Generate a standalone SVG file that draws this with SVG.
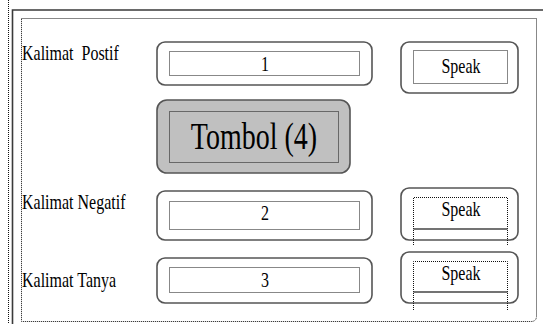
<svg xmlns="http://www.w3.org/2000/svg" width="543" height="324" viewBox="0 0 543 324">
<style>
.frame{fill:none;stroke:#3a3a3a;stroke-width:1.6}
.dot{fill:none;stroke:#111;stroke-width:1;stroke-dasharray:1 1}
.box{fill:#fff;stroke:#555;stroke-width:1.6}
.btn{fill:#c0c0c0;stroke:#555;stroke-width:1.6}
.t{font-family:"Liberation Serif","Times New Roman",serif;fill:#000;white-space:pre}
.lbl{font-size:16px}
.num{font-size:16px;text-anchor:middle}
.spk{font-size:16px;text-anchor:middle}
.big{font-size:28px;text-anchor:middle}
.bar{stroke:#444;stroke-width:1.6}
</style>
<rect width="543" height="324" fill="#fff"/>
<g id="frame">
<line x1="8.5" y1="0" x2="8.5" y2="324" class="dot"/>
<polyline points="12.5,324 12.5,10 543,10" class="frame"/>
<path d="M21.5,18.5 H536.5 V316 Q536.5,321.5 531,321.5 H21.5 Z" class="dot"/>
</g>
<g id="row1">
<text class="t lbl" xml:space="preserve" transform="translate(22,60) scale(1,1.3)">Kalimat  Postif</text>
<rect x="157" y="42" width="215" height="43" rx="8" class="box"/>
<rect x="169.5" y="51.5" width="190" height="24" class="dot"/>
<text class="t num" transform="translate(265,71) scale(1,1.3)">1</text>
</g>
<g id="speak1">
<rect x="401" y="42" width="117" height="51" rx="8" class="box"/>
<rect x="413.5" y="50.5" width="94" height="33" class="dot"/>
<text class="t spk" transform="translate(461,73) scale(1,1.3)">Speak</text>
</g>
<g id="tombol">
<rect x="157" y="100" width="193" height="73" rx="10" class="btn"/>
<rect x="169.5" y="111.5" width="169" height="51" class="dot"/>
<text class="t big" transform="translate(254,149) scale(1,1.35)">Tombol (4)</text>
</g>
<g id="row2">
<text class="t lbl" transform="translate(22,209) scale(1,1.3)">Kalimat Negatif</text>
<rect x="157" y="191" width="215" height="49" rx="8" class="box"/>
<rect x="169.5" y="201.5" width="190" height="28" class="dot"/>
<text class="t num" transform="translate(265,220) scale(1,1.3)">2</text>
</g>
<g id="speak2">
<rect x="401" y="188" width="117" height="52" rx="8" class="box"/>
<polyline points="413.5,245 413.5,197.5 507.5,197.5 507.5,245" class="dot"/>
<line x1="413.5" y1="229" x2="507.5" y2="229" class="bar"/>
<text class="t spk" transform="translate(461,216) scale(1,1.3)">Speak</text>
</g>
<g id="row3">
<text class="t lbl" transform="translate(22,287) scale(1,1.3)">Kalimat Tanya</text>
<rect x="157" y="258" width="215" height="45" rx="8" class="box"/>
<rect x="169.5" y="267.5" width="190" height="25" class="dot"/>
<text class="t num" transform="translate(265,287) scale(1,1.3)">3</text>
</g>
<g id="speak3">
<rect x="401" y="252" width="117" height="51" rx="8" class="box"/>
<polyline points="413.5,310 413.5,261.5 507.5,261.5 507.5,310" class="dot"/>
<line x1="413.5" y1="292" x2="507.5" y2="292" class="bar"/>
<text class="t spk" transform="translate(461,280) scale(1,1.3)">Speak</text>
</g>
<g id="connectors"/>
</svg>
